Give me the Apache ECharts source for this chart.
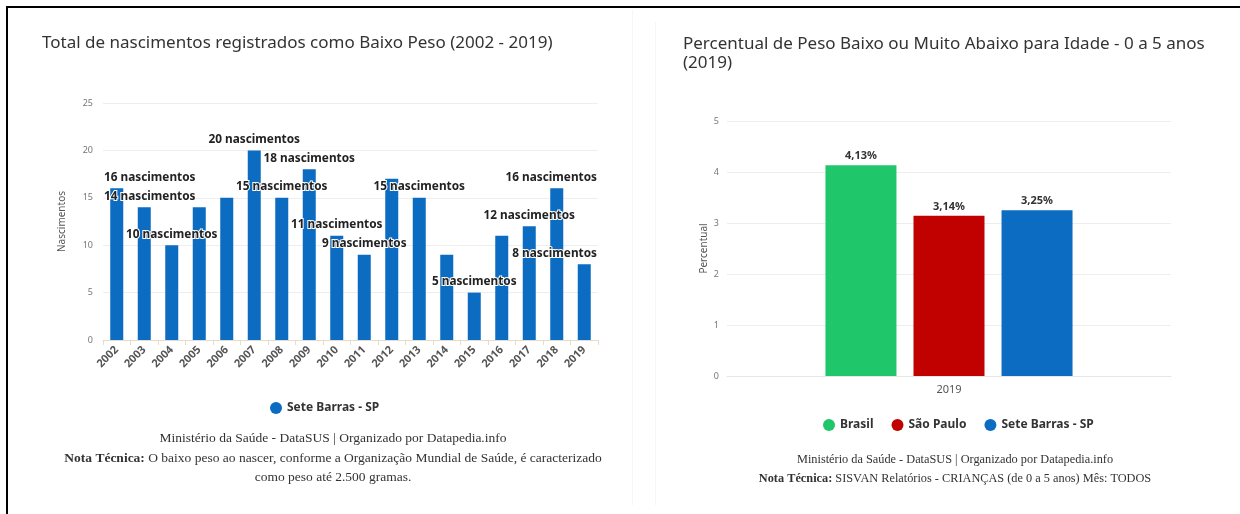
<!DOCTYPE html>
<html><head><meta charset="utf-8">
<script src="https://cdn.jsdelivr.net/npm/echarts@6/dist/echarts.min.js"></script>
<style>html,body{margin:0;padding:0;background:#fff}#c{width:1240px;height:514px}</style>
</head><body><div id="c"></div><script>
const years = ['2002','2003','2004','2005','2006','2007','2008','2009','2010','2011','2012','2013','2014','2015','2016','2017','2018','2019'];
const births = [16,14,10,14,15,20,15,18,11,9,17,15,9,5,11,12,16,8];
const regions = ['Brasil','São Paulo','Sete Barras - SP'];
const regionColors = ['#1fc76a','#c10000','#0b6cc2'];
const percentYear = ['2019'];
const percentValues = [4.13, 3.14, 3.25];

const SANS = 'Noto Sans';
const SERIF = 'Liberation Serif';
const chart = echarts.init(document.getElementById('c'), null, {renderer:'canvas'});

const rightSeries = regions.map((r,i)=>({
  name:r, type:'bar', xAxisIndex:1, yAxisIndex:1,
  data:[percentValues[i]], barWidth:71, barGap:'24%',
  itemStyle:{color:regionColors[i]},
  label:{show:true, position:'top', distance:4, fontFamily:SANS, fontSize:11, fontWeight:'bold', color:'#333',
    formatter:p=>p.value.toFixed(2).replace('.',',')+'%'}
}));

function footStyle(fs, lh){
  return {fontFamily:SERIF, fontSize:fs, fontWeight:'normal', color:'#333', lineHeight:lh, align:'center',
    rich:{b:{fontFamily:SERIF, fontSize:fs, fontWeight:'bold', color:'#333', lineHeight:lh}}};
}

chart.setOption({
  animation:false,
  textStyle:{fontFamily:SANS},
  title:[
    {text:'Total de nascimentos registrados como Baixo Peso (2002 - 2019)', left:37, top:30,
      textStyle:{fontFamily:SANS, fontSize:17, fontWeight:'normal', color:'#333'}},
    {text:'Percentual de Peso Baixo ou Muito Abaixo para Idade - 0 a 5 anos\n(2019)', left:678, top:30,
      textStyle:{fontFamily:SANS, fontSize:17, fontWeight:'normal', color:'#333', lineHeight:19}},
    {text:'Ministério da Saúde - DataSUS | Organizado por Datapedia.info\n{b|Nota Técnica:} O baixo peso ao nascer, conforme a Organização Mundial de Saúde, é caracterizado\ncomo peso até 2.500 gramas.',
      left:328, top:424, textAlign:'center', textStyle:footStyle(13.5, 19.5)},
    {text:'Ministério da Saúde - DataSUS | Organizado por Datapedia.info\n{b|Nota Técnica:} SISVAN Relatórios - CRIANÇAS (de 0 a 5 anos) Mês: TODOS',
      left:950, top:445, textAlign:'center', textStyle:footStyle(12.3, 19)}
  ],
  legend:[
    {data:['Sete Barras - SP'], left:265, top:397, icon:'circle', itemWidth:12, itemHeight:12, itemGap:18,
      textStyle:{fontFamily:SANS, fontSize:12, fontWeight:'bold', color:'#333'}},
    {data:regions, left:818, top:414, icon:'circle', itemWidth:12, itemHeight:12, itemGap:18,
      textStyle:{fontFamily:SANS, fontSize:12, fontWeight:'bold', color:'#333'}}
  ],
  grid:[
    {left:103, right:642, top:103, bottom:174},
    {left:727, right:69, top:121, bottom:138}
  ],
  xAxis:[
    {type:'category', gridIndex:0, data:years,
      axisLine:{lineStyle:{color:'#e6dcc8'}}, axisTick:{show:true, lineStyle:{color:'#e6dcc8'}},
      axisLabel:{rotate:45, fontSize:11, fontWeight:'bold', color:'#555', margin:8, interval:0}},
    {type:'category', gridIndex:1, data:percentYear,
      axisLine:{lineStyle:{color:'#e6e6e6'}}, axisTick:{show:false},
      axisLabel:{fontSize:11, color:'#555', margin:8}}
  ],
  yAxis:[
    {type:'value', gridIndex:0, min:0, max:25, interval:5,
      name:'Nascimentos', nameLocation:'middle', nameGap:36, nameTextStyle:{fontSize:10, color:'#555'},
      axisLabel:{fontSize:9, color:'#777', margin:10},
      splitLine:{lineStyle:{color:'#eeeeee'}}},
    {type:'value', gridIndex:1, min:0, max:5, interval:1,
      name:'Percentual', nameLocation:'middle', nameGap:18, nameTextStyle:{fontSize:10, color:'#555'},
      axisLabel:{fontSize:9, color:'#777', margin:8},
      splitLine:{lineStyle:{color:'#eeeeee'}}}
  ],
  series:[
    {name:'Sete Barras - SP', type:'bar', xAxisIndex:0, yAxisIndex:0, barWidth:13,
      itemStyle:{color:'#0b6cc2'},
      data:births,
      label:{show:true, position:'top', distance:5, fontFamily:SANS, fontSize:11.8, fontWeight:'bold', color:'#222',
        textBorderColor:'#fff', textBorderWidth:2, formatter:'{c} nascimentos'},
      labelLayout:function(p){
        const r = p.labelRect;
        let dx = 0;
        if (r.x < 103) dx = 103 - r.x;
        if (r.x + r.width > 598) dx = 598 - (r.x + r.width);
        return {hideOverlap:true, dx:dx};
      }},
    ...rightSeries
  ],
  graphic:[
    {type:'rect', shape:{x:6, y:6, width:2, height:508}, style:{fill:'#000'}},
    {type:'rect', shape:{x:6, y:6, width:1234, height:2}, style:{fill:'#000'}},
    {type:'rect', shape:{x:632, y:10, width:1, height:495}, style:{fill:'#f6f6f6'}},
    {type:'rect', shape:{x:655, y:22, width:1, height:483}, style:{fill:'#f6f6f6'}}
  ]
});
</script></body></html>
